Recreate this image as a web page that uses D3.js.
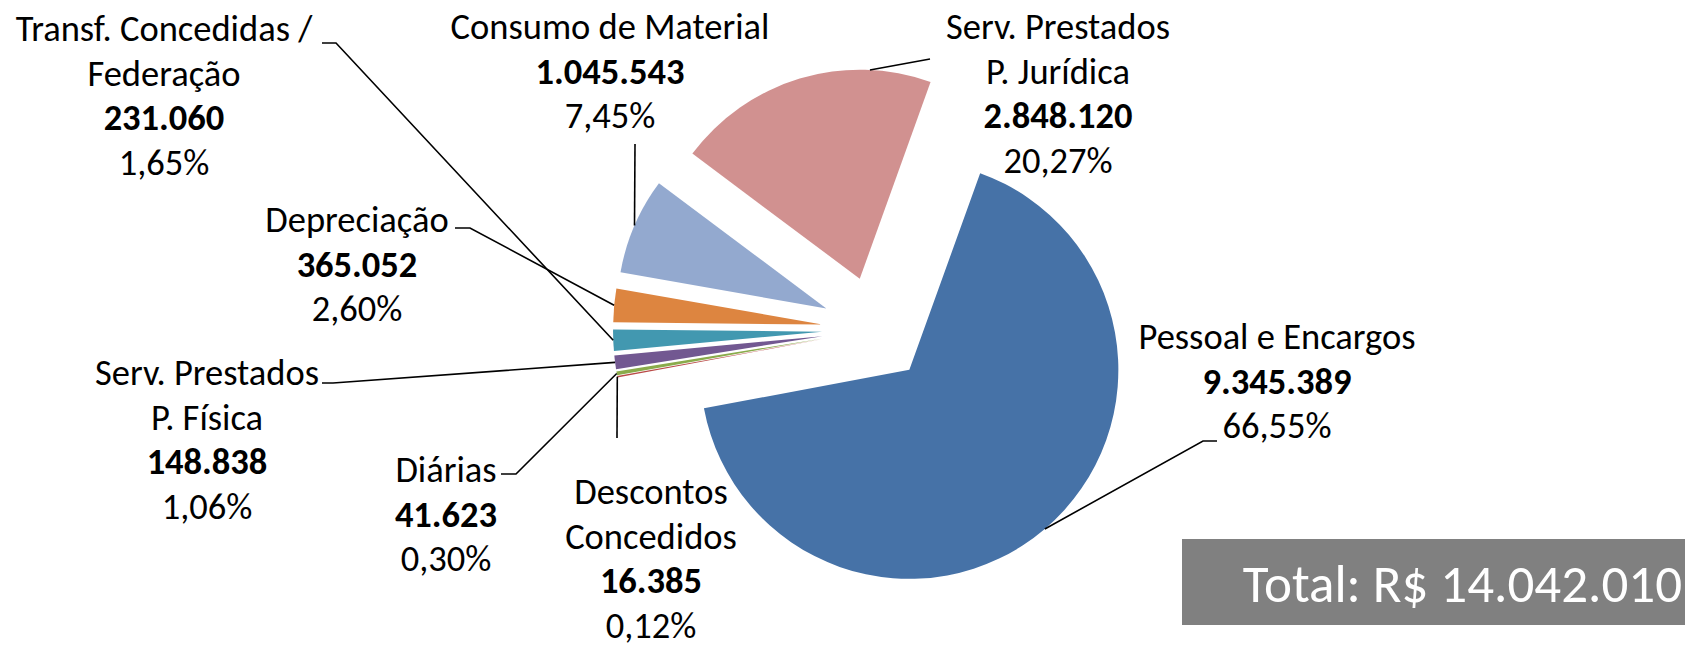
<!DOCTYPE html>
<html>
<head>
<meta charset="utf-8">
<script src="https://cdn.jsdelivr.net/npm/d3@7"></script>
<style>
  html, body { margin: 0; padding: 0; background: #fff; }
  svg { display: block; }
  text { font-family: Carlito, Calibri, Lato, sans-serif; fill: #000; }
</style>
</head>
<body>
<div id="chart"></div>
<script>
// data, in the order the slices run clockwise
var categories = ['Pessoal e Encargos', 'Descontos\nConcedidos', 'Diárias', 'Serv. Prestados\nP. Física',
                  'Transf. Concedidas /\nFederação', 'Depreciação', 'Consumo de Material', 'Serv. Prestados\nP. Jurídica']
var values = [9345389, 16385, 41623, 148838, 231060, 365052, 1045543, 2848120]
var percentLabels = ['66,55%', '0,12%', '0,30%', '1,06%', '1,65%', '2,60%', '7,45%', '20,27%']
var totalLabel = 'Total: R$ 14.042.010'

var colors = ['#4672a7', '#b94a47', '#8aab4b', '#725891', '#4298b0', '#dd8540', '#93a9cf', '#d19190']

// label placement: centre x, first baseline, leader points (label side first), attach position on arc
var labelLayout = [
  { x: 1277, y: 349, leader: [[1217, 441], [1203, 441]], at: 0.5 },
  { x: 651, y: 504, leader: [[617, 438]], at: 0.5 },
  { x: 446, y: 482, leader: [[501, 474], [516, 474]], at: 0.5 },
  { x: 207, y: 385, leader: [[322, 383], [333, 383]], at: 0.5 },
  { x: 164, y: 41, leader: [[322, 43], [336, 43]], at: 0.5 },
  { x: 357, y: 232, leader: [[455, 228], [470, 228]], at: 0.5 },
  { x: 610, y: 39, leader: [[635, 144]], at: 0.5 },
  { x: 1058, y: 39, leader: [[930, 59]], at: 0.767 }
]

var width = 1685, height = 645
var cx = 875, cy = 329.5
var radius = 209
var explode = 53
var lineH = 44.7
var fontSize = 36.5

var loc = d3.formatLocale({ decimal: ',', thousands: '.', grouping: [3], currency: ['R$ ', ''] })
var fmt = loc.format(',d')

var svg = d3.select('#chart').append('svg')
            .attr('width', width)
            .attr('height', height)

var pie = d3.pie()
            .value(function(d) { return d })
            .sort(null)
            .startAngle(19.8 * Math.PI / 180)
            .endAngle(19.8 * Math.PI / 180 + 2 * Math.PI)

var arc = d3.arc().innerRadius(0).outerRadius(radius)
var arcs = pie(values)

function offset(a, r) { return [Math.sin(a) * r, -Math.cos(a) * r] }

var g = svg.append('g').attr('transform', 'translate(' + cx + ',' + cy + ')')

g.selectAll('path.slice')
  .data(arcs)
  .enter()
  .append('path')
    .attr('class', 'slice')
    .attr('d', arc)
    .attr('fill', function(d, i) { return colors[i] })
    .attr('transform', function(d) {
      var o = offset((d.startAngle + d.endAngle) / 2, explode)
      return 'translate(' + o[0] + ',' + o[1] + ')'
    })

// leader lines
var line = d3.line()
g.selectAll('path.leader')
  .data(arcs)
  .enter()
  .append('path')
    .attr('class', 'leader')
    .attr('fill', 'none')
    .attr('stroke', '#000')
    .attr('stroke-width', 1.6)
    .attr('d', function(d, i) {
      var L = labelLayout[i]
      var mid = (d.startAngle + d.endAngle) / 2
      var e = offset(mid, explode)
      var a = d.startAngle + (d.endAngle - d.startAngle) * L.at
      var p = offset(a, radius)
      var pts = L.leader.map(function(q) { return [q[0] - cx, q[1] - cy] })
      pts.push([e[0] + p[0], e[1] + p[1]])
      return line(pts)
    })

// data labels
var labels = svg.selectAll('text.lbl')
  .data(arcs)
  .enter()
  .append('text')
    .attr('class', 'lbl')
    .attr('text-anchor', 'middle')
    .attr('font-size', fontSize)
    .attr('x', function(d, i) { return labelLayout[i].x })
    .attr('y', function(d, i) { return labelLayout[i].y })

labels.each(function(d, i) {
  var t = d3.select(this)
  var rows = categories[i].split('\n').map(function(s) { return { s: s, b: false } })
  rows.push({ s: fmt(values[i]), b: true })
  rows.push({ s: percentLabels[i], b: false })
  rows.forEach(function(r, k) {
    t.append('tspan')
      .attr('x', labelLayout[i].x)
      .attr('dy', k === 0 ? 0 : lineH)
      .attr('font-weight', r.b ? 'bold' : 'normal')
      .text(r.s)
  })
})

// total box
svg.append('rect')
  .attr('x', 1182).attr('y', 539)
  .attr('width', width - 1182).attr('height', 86)
  .attr('fill', '#808080')

svg.append('text')
  .attr('x', 1682).attr('y', 602)
  .attr('text-anchor', 'end')
  .attr('font-size', 53)
  .style('fill', '#fff')
  .text(totalLabel)
</script>
</body>
</html>
